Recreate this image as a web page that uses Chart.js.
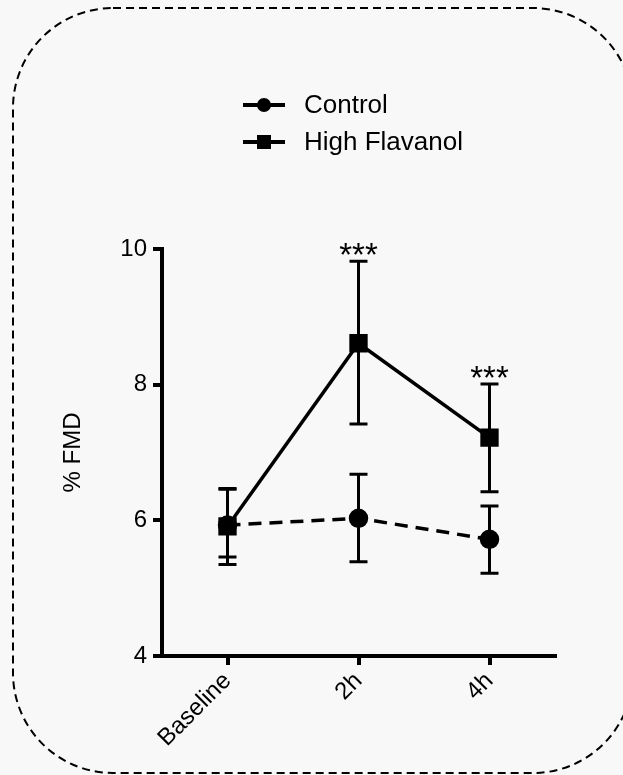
<!DOCTYPE html>
<html>
<head>
<meta charset="utf-8">
<script src="https://cdn.jsdelivr.net/npm/chart.js@4/dist/chart.umd.min.js"></script>
<style>
    html, body { margin: 0; padding: 0; background: #f8f8f8; overflow: hidden; }
    #wrap { width: 623px; height: 775px; }
</style>
</head>
<body>
<div id="wrap"><canvas id="fmd-chart" width="623" height="775"></canvas></div>
<script>
// % FMD over time, mean with error bars
const timepoints = ['Baseline', '2h', '4h'];
const controlMean = [5.93, 6.03, 5.72];
const controlLow = [5.46, 5.39, 5.22];
const controlHigh = [6.46, 6.68, 6.21];
const flavanolMean = [5.91, 8.61, 7.22];
const flavanolLow = [5.35, 7.42, 6.42];
const flavanolHigh = [6.47, 9.82, 8.01];
const sigMarks = ['', '***', '***'];
const yTicks = [4, 6, 8, 10];

const FONT = 'Liberation Sans, Arial, sans-serif';

// dashed rounded frame, runs off the right edge like the original
const framePlugin = {
    id: 'frame',
    beforeDraw(chart) {
        const ctx = chart.ctx;
        ctx.save();
        ctx.strokeStyle = '#000';
        ctx.lineWidth = 2;
        ctx.setLineDash([8, 5]);
        ctx.beginPath();
        ctx.roundRect(13, 8, 620, 765, 100);
        ctx.stroke();
        ctx.restore();
    }
};

const errorBarPlugin = {
    id: 'errorBars',
    beforeDatasetsDraw(chart) {
        const ctx = chart.ctx;
        const x = chart.scales.x;
        const y = chart.scales.y;
        const groups = [[controlLow, controlHigh], [flavanolLow, flavanolHigh]];
        ctx.save();
        ctx.strokeStyle = '#000';
        ctx.lineWidth = 3;
        groups.forEach(([lo, hi]) => {
            timepoints.forEach((t, i) => {
                const px = x.getPixelForValue(i);
                const top = y.getPixelForValue(hi[i]);
                const bot = y.getPixelForValue(lo[i]);
                ctx.beginPath();
                ctx.moveTo(px, top);
                ctx.lineTo(px, bot);
                ctx.moveTo(px - 9, top);
                ctx.lineTo(px + 9, top);
                ctx.moveTo(px - 9, bot);
                ctx.lineTo(px + 9, bot);
                ctx.stroke();
            });
        });
        ctx.restore();
    },
    afterDatasetsDraw(chart) {
        const ctx = chart.ctx;
        const x = chart.scales.x;
        const y = chart.scales.y;
        ctx.save();
        ctx.fillStyle = '#000';
        ctx.font = '33px ' + FONT;
        ctx.textAlign = 'center';
        ctx.textBaseline = 'alphabetic';
        sigMarks.forEach((m, i) => {
            if (!m) return;
            ctx.fillText(m, x.getPixelForValue(i), y.getPixelForValue(flavanolHigh[i]) + 5);
        });
        ctx.restore();
    }
};

// legend drawn by hand: line with marker, label on the right
const legendPlugin = {
    id: 'customLegend',
    afterDraw(chart) {
        const ctx = chart.ctx;
        const rows = [
            { label: 'Control', shape: 'circle', y: 105 },
            { label: 'High Flavanol', shape: 'square', y: 142 }
        ];
        ctx.save();
        ctx.fillStyle = '#000';
        ctx.strokeStyle = '#000';
        ctx.lineWidth = 4;
        ctx.font = '26px ' + FONT;
        ctx.textBaseline = 'middle';
        rows.forEach(r => {
            ctx.beginPath();
            ctx.moveTo(243, r.y);
            ctx.lineTo(285, r.y);
            ctx.stroke();
            if (r.shape === 'circle') {
                ctx.beginPath();
                ctx.arc(264, r.y, 7, 0, Math.PI * 2);
                ctx.fill();
            } else {
                ctx.fillRect(257, r.y - 7, 14, 14);
            }
            ctx.fillText(r.label, 304, r.y + 1);
        });
        ctx.restore();
    }
};

const ctx = document.getElementById('fmd-chart').getContext('2d');
new Chart(ctx, {
    type: 'line',
    data: {
        labels: timepoints,
        datasets: [
            {
                label: 'Control',
                data: controlMean,
                borderColor: '#000',
                backgroundColor: '#000',
                borderWidth: 3.5,
                borderDash: [13, 8],
                pointStyle: 'circle',
                pointRadius: 8,
                pointHoverRadius: 8,
                tension: 0
            },
            {
                label: 'High Flavanol',
                data: flavanolMean,
                borderColor: '#000',
                backgroundColor: '#000',
                borderWidth: 3.5,
                pointStyle: 'rect',
                pointRadius: 10.5,
                pointHoverRadius: 10.5,
                tension: 0
            }
        ]
    },
    options: {
        responsive: false,
        animation: false,
        events: [],
        layout: { padding: { left: 55, top: 249, right: 68, bottom: 0 } },
        plugins: {
            legend: { display: false },
            tooltip: { enabled: false }
        },
        scales: {
            x: {
                offset: true,
                border: { display: true, color: '#000', width: 4 },
                grid: { display: true, drawOnChartArea: false, drawTicks: true, tickLength: 9, lineWidth: 4, color: '#000' },
                ticks: { color: '#000', font: { family: FONT, size: 24 }, minRotation: 45, maxRotation: 45, padding: 2 },
                afterFit(scale) { scale.height = 119; }
            },
            y: {
                min: 4,
                max: 10,
                border: { display: true, color: '#000', width: 4 },
                grid: { display: true, drawOnChartArea: false, drawTicks: true, tickLength: 9, lineWidth: 4, color: '#000' },
                ticks: { color: '#000', font: { family: FONT, size: 24 }, padding: 6 },
                afterBuildTicks(scale) { scale.ticks = yTicks.map(v => ({ value: v })); },
                title: { display: true, text: '% FMD', color: '#000', font: { family: FONT, size: 24 }, padding: 4 },
                afterFit(scale) { scale.width = 107; }
            }
        }
    },
    plugins: [framePlugin, errorBarPlugin, legendPlugin]
});
</script>
</body>
</html>
